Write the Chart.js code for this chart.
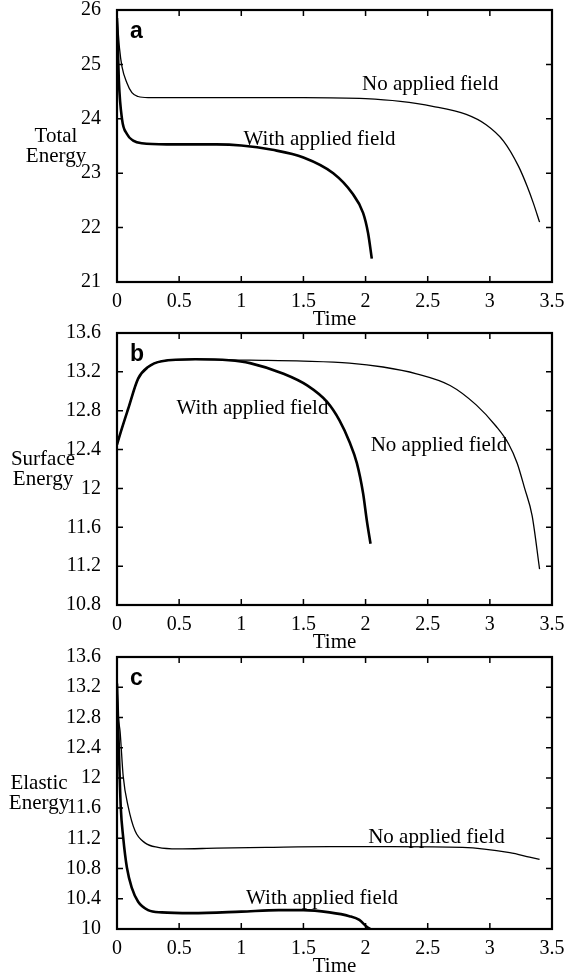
<!DOCTYPE html>
<html>
<head>
<meta charset="utf-8">
<script src="https://cdn.jsdelivr.net/npm/chart.js@4"></script>
<style>
  body { margin: 0; background: #fff; overflow: hidden; }
  #wrap { position: relative; width: 565px; height: 976px; overflow: hidden; }
  #wrap canvas { position: absolute; left: 0; }
</style>
</head>
<body>
<div id="wrap">
  <canvas id="chartA" width="565" height="332" style="top:0px"></canvas>
  <canvas id="chartB" width="565" height="332" style="top:323px"></canvas>
  <canvas id="chartC" width="565" height="332" style="top:647px"></canvas>
</div>
<script>
// shared x axis
const timeTicks = [0, 0.5, 1, 1.5, 2, 2.5, 3, 3.5];

// panel a - total energy
const totalTicks = [21, 22, 23, 24, 25, 26];
const totalNoTime = [0, 0.02, 0.04, 0.08, 0.12, 0.17, 0.25, 0.5, 1.0, 1.5, 2.0, 2.28, 2.54, 2.81, 2.97, 3.11, 3.23, 3.3, 3.35, 3.4];
const totalNo = [25.9, 25.3, 24.96, 24.66, 24.48, 24.41, 24.39, 24.39, 24.39, 24.39, 24.37, 24.32, 24.23, 24.08, 23.89, 23.59, 23.13, 22.76, 22.45, 22.1];
const totalWithTime = [0, 0.015, 0.04, 0.08, 0.13, 0.2, 0.4, 0.8, 1.0, 1.25, 1.5, 1.74, 1.89, 1.98, 2.02, 2.05];
const totalWith = [25.85, 24.7, 24.0, 23.72, 23.6, 23.55, 23.53, 23.53, 23.51, 23.43, 23.29, 23.0, 22.64, 22.27, 21.9, 21.43];

// panel b - surface energy
const surfaceTicks = [10.8, 11.2, 11.6, 12, 12.4, 12.8, 13.2, 13.6];
const surfaceNoTime = [0, 0.03, 0.09, 0.17, 0.25, 0.36, 0.63, 1.07, 1.5, 1.87, 2.14, 2.41, 2.68, 2.89, 3.05, 3.15, 3.22, 3.28, 3.34, 3.4];
const surfaceNo = [12.45, 12.58, 12.82, 13.13, 13.25, 13.31, 13.33, 13.32, 13.31, 13.29, 13.25, 13.18, 13.06, 12.86, 12.64, 12.46, 12.26, 12.0, 11.72, 11.17];
const surfaceWithTime = [0, 0.03, 0.09, 0.17, 0.25, 0.36, 0.63, 0.9, 1.07, 1.34, 1.53, 1.69, 1.79, 1.87, 1.93, 1.98, 2.01, 2.04];
const surfaceWith = [12.45, 12.58, 12.82, 13.13, 13.25, 13.31, 13.33, 13.32, 13.29, 13.18, 13.06, 12.89, 12.7, 12.48, 12.26, 11.95, 11.67, 11.43];

// panel c - elastic energy
const elasticTicks = [10, 10.4, 10.8, 11.2, 11.6, 12, 12.4, 12.8, 13.2, 13.6];
const elasticNoTime = [0, 0.01, 0.025, 0.05, 0.09, 0.145, 0.225, 0.33, 0.49, 0.8, 1.2, 1.71, 2.2, 2.78, 3.16, 3.32, 3.4];
const elasticNo = [13.25, 12.83, 12.61, 12.02, 11.62, 11.3, 11.14, 11.08, 11.06, 11.07, 11.08, 11.09, 11.09, 11.08, 11.01, 10.95, 10.92];
const elasticWithTime = [0, 0.015, 0.03, 0.05, 0.08, 0.12, 0.17, 0.25, 0.36, 0.6, 1.0, 1.3, 1.5, 1.71, 1.87, 1.95, 2.01, 2.04];
const elasticWith = [13.25, 12.38, 11.62, 11.21, 10.81, 10.54, 10.36, 10.25, 10.22, 10.21, 10.23, 10.25, 10.25, 10.22, 10.17, 10.12, 10.03, 10.0];

const SERIF = "'Liberation Serif', 'Times New Roman', serif";
Chart.defaults.font.family = SERIF;
Chart.defaults.font.size = 20;
Chart.defaults.color = '#000';

const pts = (xs, ys) => xs.map((x, i) => ({ x: x, y: ys[i] }));

// frame, inward ticks and text labels
const framePlugin = {
  id: 'frame',
  afterDraw(chart, args, opts) {
    const ctx = chart.ctx;
    const a = chart.chartArea;
    const xs = chart.scales.x, ys = chart.scales.y;
    const len = 6;
    ctx.save();
    ctx.strokeStyle = '#000';
    ctx.lineWidth = 1.5;
    xs.ticks.forEach(t => {
      const px = xs.getPixelForValue(t.value);
      if (px <= a.left + 1 || px >= a.right - 1) return;
      ctx.beginPath();
      ctx.moveTo(px, a.bottom); ctx.lineTo(px, a.bottom - len);
      ctx.moveTo(px, a.top); ctx.lineTo(px, a.top + len);
      ctx.stroke();
    });
    ys.ticks.forEach(t => {
      const py = ys.getPixelForValue(t.value);
      if (py <= a.top + 1 || py >= a.bottom - 1) return;
      ctx.beginPath();
      ctx.moveTo(a.left, py); ctx.lineTo(a.left + len, py);
      ctx.moveTo(a.right, py); ctx.lineTo(a.right - len, py);
      ctx.stroke();
    });
    ctx.lineWidth = 2.2;
    ctx.strokeRect(a.left, a.top, a.right - a.left, a.bottom - a.top);

    // panel letter
    ctx.fillStyle = '#000';
    ctx.font = "bold 23px 'Liberation Sans', Arial, sans-serif";
    ctx.textAlign = 'left';
    ctx.textBaseline = 'alphabetic';
    ctx.fillText(opts.letter, a.left + 13, a.top + 28);

    // y axis title, two horizontal lines
    ctx.font = '21px ' + SERIF;
    ctx.textAlign = 'center';
    ctx.textBaseline = 'middle';
    const midY = (a.top + a.bottom) / 2;
    opts.yTitle.forEach((line, i) => {
      ctx.fillText(line, opts.yTitleX, midY - 10 + i * 20);
    });

    // curve labels in data units
    opts.notes.forEach(n => {
      ctx.fillText(n.text, xs.getPixelForValue(n.x), ys.getPixelForValue(n.y));
    });
    ctx.restore();
  }
};

function makePanel(id, yTicks, noX, noY, withX, withY, frameOpts) {
  return new Chart(document.getElementById(id), {
    type: 'line',
    data: {
      datasets: [
        { label: 'No applied field', data: pts(noX, noY), borderColor: '#000', borderWidth: 1.3, pointRadius: 0, cubicInterpolationMode: 'monotone', fill: false },
        { label: 'With applied field', data: pts(withX, withY), borderColor: '#000', borderWidth: 2.6, pointRadius: 0, cubicInterpolationMode: 'monotone', fill: false }
      ]
    },
    options: {
      responsive: false,
      animation: false,
      events: [],
      layout: { padding: { top: 10, right: 13, left: 0, bottom: 0 } },
      plugins: { legend: { display: false }, tooltip: { enabled: false }, frame: frameOpts },
      scales: {
        x: {
          type: 'linear', min: 0, max: 3.5,
          grid: { display: false }, border: { display: false },
          afterBuildTicks: s => { s.ticks = timeTicks.map(v => ({ value: v })); },
          afterFit: s => { s.height = 50; s.paddingLeft = 0; s.paddingRight = 0; },
          ticks: { padding: 0, maxRotation: 0, autoSkip: false, callback: v => String(v) },
          title: { display: true, text: 'Time', padding: 0, font: { size: 21 } }
        },
        y: {
          type: 'linear', min: yTicks[0], max: yTicks[yTicks.length - 1],
          grid: { display: false }, border: { display: false },
          afterBuildTicks: s => { s.ticks = yTicks.map(v => ({ value: v })); },
          afterFit: s => { s.width = 117; s.paddingTop = 0; s.paddingBottom = 0; },
          ticks: { padding: 8, autoSkip: false, callback: v => String(v) }
        }
      }
    },
    plugins: [framePlugin]
  });
}

makePanel('chartA', totalTicks, totalNoTime, totalNo, totalWithTime, totalWith, {
  letter: 'a', yTitle: ['Total', 'Energy'], yTitleX: 56,
  notes: [{ text: 'No applied field', x: 2.52, y: 24.63 }, { text: 'With applied field', x: 1.63, y: 23.62 }]
});
makePanel('chartB', surfaceTicks, surfaceNoTime, surfaceNo, surfaceWithTime, surfaceWith, {
  letter: 'b', yTitle: ['Surface', 'Energy'], yTitleX: 43,
  notes: [{ text: 'With applied field', x: 1.09, y: 12.82 }, { text: 'No applied field', x: 2.59, y: 12.44 }]
});
makePanel('chartC', elasticTicks, elasticNoTime, elasticNo, elasticWithTime, elasticWith, {
  letter: 'c', yTitle: ['Elastic', 'Energy'], yTitleX: 39,
  notes: [{ text: 'No applied field', x: 2.57, y: 11.21 }, { text: 'With applied field', x: 1.65, y: 10.41 }]
});
</script>
</body>
</html>
